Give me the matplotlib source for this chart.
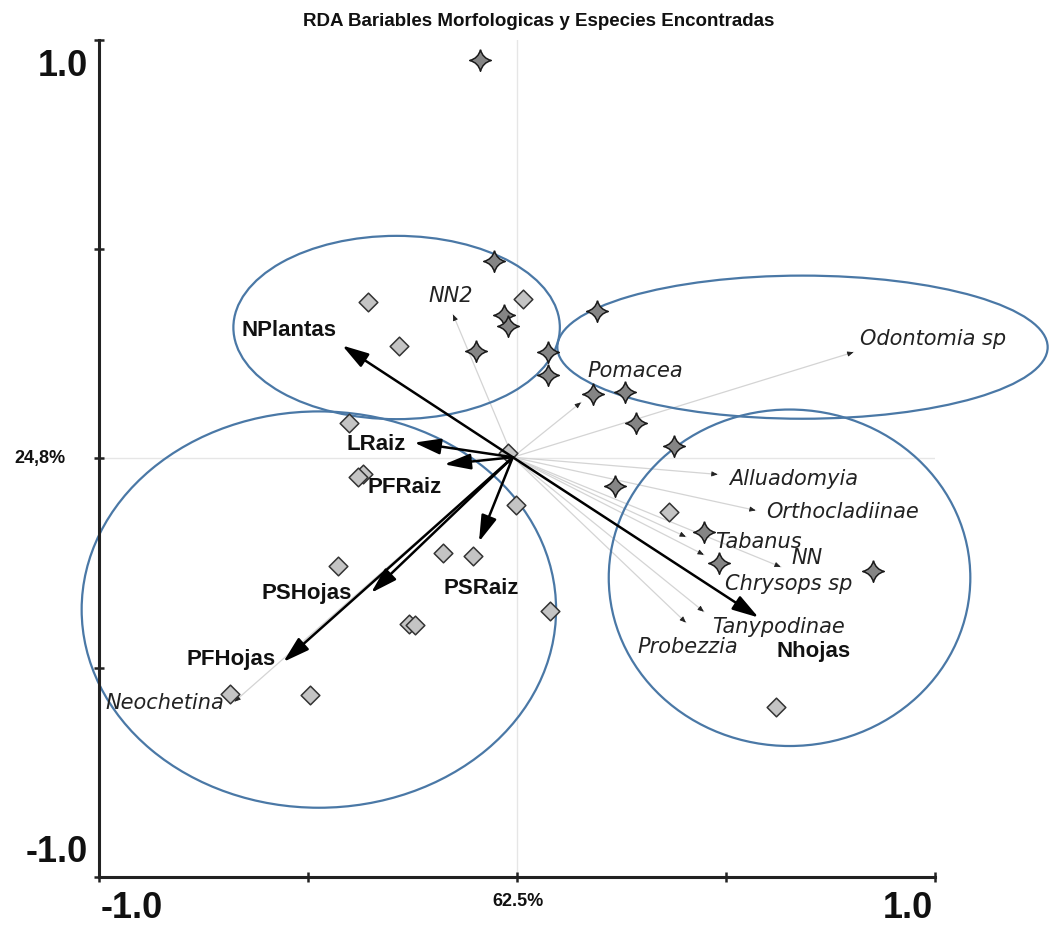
import numpy as np
import matplotlib
matplotlib.use("Agg")
import matplotlib.pyplot as plt
from matplotlib.patches import Ellipse
from matplotlib.path import Path

# ---------------- data ----------------
diamond_x = [-0.356, -0.282, 0.014, -0.401, -0.368, -0.380, -0.022, -0.002, -0.428,
             -0.177, -0.105, 0.079, -0.258, -0.244, -0.686, -0.495, 0.363, 0.619]
diamond_y = [0.373, 0.268, 0.380, 0.086, -0.036, -0.045, 0.012, -0.112, -0.258,
             -0.225, -0.232, -0.364, -0.395, -0.397, -0.562, -0.565, -0.129, -0.593]

star_x = [-0.088, -0.055, -0.031, -0.022, -0.098, 0.074, 0.074, 0.182, 0.191,
          0.258, 0.284, 0.375, 0.234, 0.447, 0.483, 0.851]
star_y = [0.952, 0.471, 0.344, 0.316, 0.256, 0.254, 0.199, 0.153, 0.352,
          0.158, 0.086, 0.031, -0.065, -0.175, -0.249, -0.270]

env_names = ["NPlantas", "LRaiz", "PFRaiz", "PSRaiz", "PSHojas", "PFHojas", "Nhojas"]
env_x = [-0.418, -0.246, -0.174, -0.091, -0.349, -0.559, 0.578]
env_y = [0.270, 0.038, -0.014, -0.199, -0.321, -0.486, -0.380]

spp_names = ["NN2", "Pomacea", "Odontomia sp", "Alluadomyia", "Orthocladiinae",
             "Tabanus", "NN", "Chrysops sp", "Tanypodinae", "Probezzia", "Neochetina"]
spp_x = [-0.153, 0.153, 0.805, 0.480, 0.571, 0.404, 0.631, 0.447, 0.447, 0.404, -0.676]
spp_y = [0.344, 0.134, 0.254, -0.038, -0.124, -0.187, -0.259, -0.230, -0.366, -0.392, -0.581]

# group ellipses: centre x, centre y, width, height
ell_cx = [-0.288, 0.683, -0.474, 0.652]
ell_cy = [0.313, 0.266, -0.361, -0.285]
ell_w = [0.781, 1.173, 1.135, 0.865]
ell_h = [0.438, 0.342, 0.947, 0.804]

axis1_label = "62.5%"
axis2_label = "24,8%"
title = "RDA Bariables Morfologicas y Especies Encontradas"

# ---------------- layout (label placement) ----------------
env_label_xy = [(-0.545, 0.306), (-0.337, 0.033), (-0.268, -0.069), (-0.086, -0.311),
                (-0.504, -0.323), (-0.683, -0.481), (0.710, -0.462)]
spp_label_xy = [(-0.158, 0.388), (0.284, 0.208), (0.996, 0.285), (0.662, -0.048),
                (0.779, -0.129), (0.578, -0.199), (0.695, -0.237), (0.650, -0.301),
                (0.626, -0.402), (0.409, -0.450), (-0.843, -0.584)]
origin = (-0.01, 0.003)

# ---------------- figure ----------------
fig = plt.figure(figsize=(10.5, 9.26), dpi=100)
ax = fig.add_axes([99 / 1050, 49 / 926, 836 / 1050, 837 / 926])
ax.set_xlim(-1, 1)
ax.set_ylim(-1, 1)
for s in ["top", "right"]:
    ax.spines[s].set_visible(False)
for s in ["left", "bottom"]:
    ax.spines[s].set_linewidth(2.2)
    ax.spines[s].set_color("#222222")
ticks = [-1, -0.5, 0, 0.5, 1]
ax.set_xticks(ticks)
ax.set_yticks(ticks)
ax.set_xticklabels([])
ax.set_yticklabels([])
ax.tick_params(direction="inout", length=7, width=1.8, color="#222222")

# centre lines
ax.plot([0, 0], [-1, 1], color="#e6e6e6", lw=1, zorder=0)
ax.plot([-1, 1], [0, 0], color="#e6e6e6", lw=1, zorder=0)

# ellipses
for cx, cy, w, h in zip(ell_cx, ell_cy, ell_w, ell_h):
    e = Ellipse((cx, cy), w, h, fill=False, edgecolor="#4a78a6", lw=1.6,
                clip_on=False, zorder=2)
    ax.add_patch(e)

# species arrows (thin grey with tiny dark heads)
for (sx, sy) in zip(spp_x, spp_y):
    ax.plot([origin[0], sx], [origin[1], sy], color="#d4d4d4", lw=0.9, zorder=1)
    d = np.array([sx - origin[0], sy - origin[1]])
    d = d / np.hypot(*d)
    ax.annotate("", xy=(sx, sy), xytext=(sx - 0.012 * d[0], sy - 0.012 * d[1]),
                arrowprops=dict(arrowstyle="-|>,head_length=0.35,head_width=0.15",
                                color="#222222", lw=0.6, shrinkA=0, shrinkB=0),
                zorder=3)

# environmental arrows
for (ex, ey) in zip(env_x, env_y):
    ax.annotate("", xy=(ex, ey), xytext=origin,
                arrowprops=dict(arrowstyle="-|>,head_length=0.8,head_width=0.24",
                                color="black", lw=1.8, shrinkA=0, shrinkB=0,
                                mutation_scale=20),
                zorder=5)

# star marker path (4-point star with concave sides)
k = 0.2
verts = [(0, 1), (k, k), (1, 0), (k, -k), (0, -1), (-k, -k), (-1, 0), (-k, k), (0, 1)]
codes = [Path.MOVETO, Path.CURVE3, Path.CURVE3, Path.CURVE3, Path.CURVE3,
         Path.CURVE3, Path.CURVE3, Path.CURVE3, Path.CURVE3]
star = Path(verts, codes)

ax.scatter(diamond_x, diamond_y, marker="D", s=9.5 ** 2, facecolor="#c4c4c4",
           edgecolor="#333333", linewidth=1.1, zorder=4)
ax.scatter(star_x, star_y, marker=star, s=15.5 ** 2, facecolor="#858585",
           edgecolor="#1a1a1a", linewidth=1.1, zorder=4)

# labels
for name, (lx, ly) in zip(env_names, env_label_xy):
    ax.text(lx, ly, name, ha="center", va="center", fontsize=16,
            fontweight="bold", family="Liberation Sans", color="#111111", zorder=6)
for name, (lx, ly) in zip(spp_names, spp_label_xy):
    ax.text(lx, ly, name, ha="center", va="center", fontsize=15,
            style="italic", family="DejaVu Sans", color="#222222", zorder=6)

# axis labels (custom positioned)
bold = dict(fontweight="bold", family="Liberation Sans", color="#111111")
fig.text(63 / 1050, 1 - 66 / 926, "1.0", ha="center", va="center", fontsize=26, **bold)
fig.text(57 / 1050, 1 - 853 / 926, "-1.0", ha="center", va="center", fontsize=26, **bold)
fig.text(132 / 1050, 1 - 908 / 926, "-1.0", ha="center", va="center", fontsize=26, **bold)
fig.text(908 / 1050, 1 - 908 / 926, "1.0", ha="center", va="center", fontsize=26, **bold)
fig.text(518 / 1050, 1 - 902 / 926, axis1_label, ha="center", va="center", fontsize=13, **bold)
fig.text(40 / 1050, 1 - 459 / 926, axis2_label, ha="center", va="center", fontsize=13, **bold)
fig.text(539 / 1050, 1 - 21 / 926, title, ha="center", va="center", fontsize=13.5, **bold)

fig.savefig("out.png", dpi=100)
